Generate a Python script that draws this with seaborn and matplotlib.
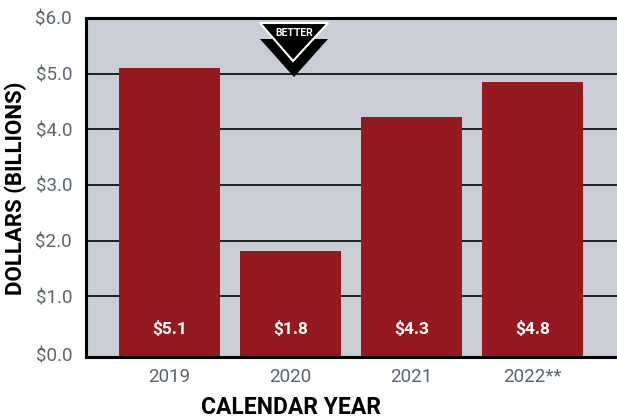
import matplotlib
matplotlib.use("Agg")
import matplotlib.pyplot as plt
from matplotlib.patches import Polygon
from matplotlib.transforms import ScaledTranslation
import pandas as pd
import seaborn as sns

years = ["2019", "2020", "2021", "2022**"]
bar_values = [5.1, 1.81, 4.22, 4.85]
bar_labels = ["$5.1", "$1.8", "$4.3", "$4.8"]
tick_values = [1, 2, 3, 4, 5, 6]
tick_labels = ["$1.0", "$2.0", "$3.0", "$4.0", "$5.0", "$6.0"]
zero_label = "$0.0"
AXIS_FLOOR = -0.09

sns.set_theme(style="white")
plt.rcParams["font.family"] = ["Roboto", "DejaVu Sans"]

W, H = 617, 417
fig = plt.figure(figsize=(W / 100, H / 100), dpi=100)
L, R, T, B = 86, 617, 18, 357
ax = fig.add_axes([L / W, 1 - B / H, (R - L) / W, (B - T) / H])
ax.set_facecolor("#C9CED6")

df = pd.DataFrame({"year": years, "value": bar_values})
sns.barplot(data=df, x="year", y="value", color="#951A20", saturation=1,
            width=0.835, ax=ax, zorder=3)
for p in ax.patches:
    top = p.get_height()
    p.set_y(AXIS_FLOOR)
    p.set_height(top - AXIS_FLOOR)
    p.set_linewidth(0)

ax.set_xlim(-0.69, 3.698)
ax.set_ylim(AXIS_FLOOR, 6)
ax.set_yticks([AXIS_FLOOR] + tick_values)
ax.set_yticklabels([zero_label] + tick_labels)
for v in tick_values[:-1]:
    ax.axhline(v, color="#111111", lw=1.3, zorder=1)

ax.tick_params(axis="both", length=0, labelsize=13.5, labelcolor="#5A6472")
ax.tick_params(axis="x", pad=8)
ax.tick_params(axis="y", pad=10)

fig.canvas.draw()
zero_tick = ax.get_yticklabels()[0]
zero_tick.set_transform(zero_tick.get_transform()
                        + ScaledTranslation(0, 2 / 72, fig.dpi_scale_trans))

for s in ["left", "bottom", "top"]:
    ax.spines[s].set_visible(True)
    ax.spines[s].set_color("black")
    ax.spines[s].set_linewidth(2.2)
    ax.spines[s].set_zorder(5)
ax.spines["right"].set_visible(False)

for i, lab in enumerate(bar_labels):
    ax.text(i, 0.42, lab, color="white", fontsize=12.5, fontweight="bold",
            ha="center", va="center", zorder=6)

ax.set_xlabel("")
ax.set_ylabel("")
fig.text(291 / W, 1 - 407 / H, "CALENDAR YEAR", fontsize=16.5, fontweight="bold",
         color="black", ha="center", va="center")
fig.text(16 / W, 1 - 188 / H, "DOLLARS (BILLIONS)", fontsize=16, fontweight="bold",
         color="black", rotation=90, ha="center", va="center")

def px(points):
    return [(x / W, 1 - y / H) for x, y in points]

fig.add_artist(Polygon(px([(260, 39), (328, 39), (294, 77)]), closed=True,
                       fc="black", ec="none", transform=fig.transFigure, zorder=7))
fig.add_artist(Polygon(px([(260, 23), (328, 23), (293, 61)]), closed=True,
                       fc="black", ec="white", lw=1.5, transform=fig.transFigure, zorder=8))
fig.text(294 / W, 1 - 33 / H, "BETTER", fontsize=7.5, fontweight="bold", color="white",
         ha="center", va="center", zorder=9)

fig.savefig("out.png", dpi=100)
